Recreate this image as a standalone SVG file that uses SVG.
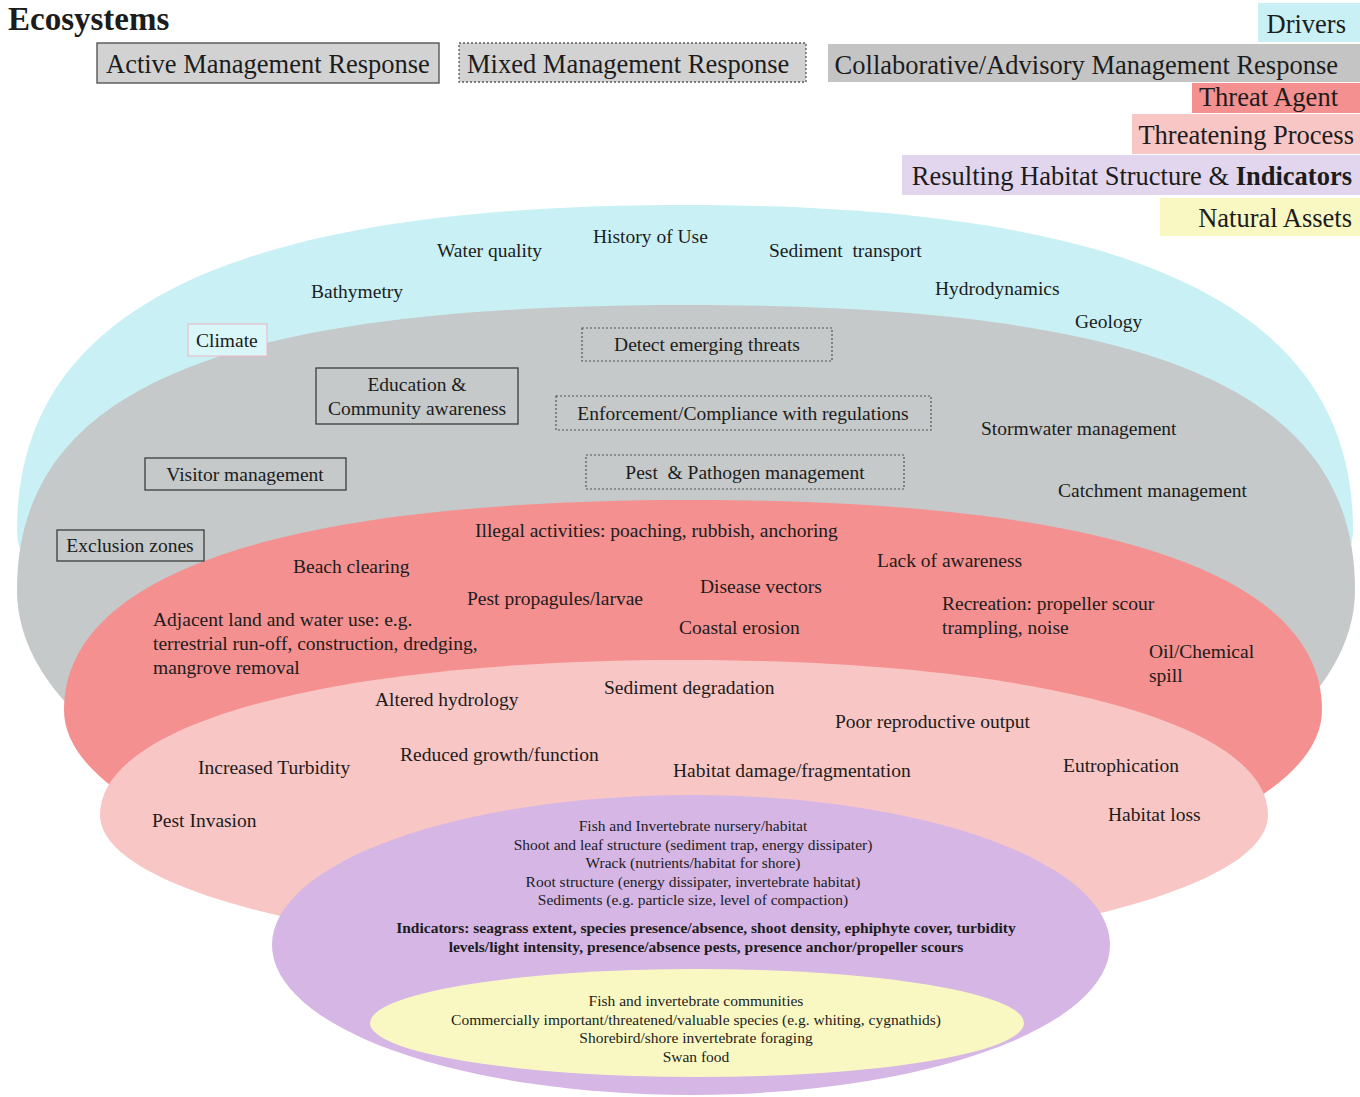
<svg xmlns="http://www.w3.org/2000/svg" width="1360" height="1097" viewBox="0 0 1360 1097">
  <style>
    text { font-family: "Liberation Serif", "Times New Roman", serif; fill: #1c1c1c; }
    .leg { font-size: 26.5px; }
    .lbl { font-size: 19.5px; }
    .sm { font-size: 15.5px; }
    .smb { font-size: 15.5px; font-weight: bold; }
    .mid { text-anchor: middle; }
    .end { text-anchor: end; }
    .active { fill: #d2d2d2; stroke: #4a4a4a; stroke-width: 1.3; }
    .mixed { fill: #d2d2d2; stroke: #5a5a5a; stroke-width: 1.3; stroke-dasharray: 2 2; }
    .boxA { fill: none; stroke: #3c3c3c; stroke-width: 1.3; }
    .boxM { fill: none; stroke: #555; stroke-width: 1.2; stroke-dasharray: 2 2; }
  </style>

  <rect width="1360" height="1097" fill="#ffffff"/>

  <!-- nested zones, outermost first -->
  <g id="zone-drivers">
    <path d="M 17,530 C 17,309 231,205 685,205 C 1139,205 1353,309 1353,530 C 1353,640 1054,730 685,730 C 316,730 17,640 17,530 Z" fill="#c9f1f5"/>
  </g>
  <g id="zone-management">
    <path d="M 17,590 C 17,390 218,305 686,305 C 1154,305 1355,390 1355,590 C 1355,756 1055,890 686,890 C 317,890 17,756 17,590 Z" fill="#c5c9c9"/>
  </g>
  <g id="zone-threat-agent">
    <path d="M 64,710 C 64,573 284,500 693,500 C 1102,500 1322,573 1322,710 C 1322,820 1040,910 693,910 C 346,910 64,820 64,710 Z" fill="#f4908f"/>
  </g>
  <g id="zone-threatening-process">
    <path d="M 100,815 C 100,722 334,660 684,660 C 1034,660 1268,722 1268,815 C 1268,892 1006,955 684,955 C 362,955 100,892 100,815 Z" fill="#f8c6c5"/>
  </g>
  <g id="zone-habitat">
    <ellipse cx="691" cy="945" rx="419" ry="150" fill="#d5b6e5"/>
  </g>
  <g id="zone-assets">
    <ellipse cx="697" cy="1023" rx="327" ry="54" fill="#f9f8c3"/>
  </g>

  <!-- title and legend -->
  <g id="title">
    <text x="8" y="30" style="font-size:33px;font-weight:bold">Ecosystems</text>
  </g>
  <g id="legend-active">
    <rect class="active" x="97" y="43" width="342" height="40"/>
    <text class="leg" x="106" y="73">Active Management Response</text>
  </g>
  <g id="legend-mixed">
    <rect class="mixed" x="459" y="43" width="347" height="39"/>
    <text class="leg" x="467" y="73">Mixed Management Response</text>
  </g>
  <g id="legend-collaborative">
    <rect x="828" y="44" width="532" height="38" fill="#c4c4c4"/>
    <text class="leg end" x="1338" y="74">Collaborative/Advisory Management Response</text>
  </g>
  <g id="legend-drivers">
    <rect x="1258" y="3" width="102" height="39" fill="#c9f1f5"/>
    <text class="leg end" x="1346" y="33">Drivers</text>
  </g>
  <g id="legend-threat-agent">
    <rect x="1192" y="83" width="168" height="30" fill="#f4908f"/>
    <text class="leg end" x="1338" y="106">Threat Agent</text>
  </g>
  <g id="legend-threatening-process">
    <rect x="1132" y="114" width="228" height="40" fill="#f8c6c5"/>
    <text class="leg end" x="1354" y="144">Threatening Process</text>
  </g>
  <g id="legend-habitat">
    <rect x="902" y="155" width="458" height="40" fill="#e2d6ee"/>
    <text class="leg end" x="1352" y="185">Resulting Habitat Structure &amp; <tspan font-weight="bold">Indicators</tspan></text>
  </g>
  <g id="legend-assets">
    <rect x="1160" y="198" width="200" height="38" fill="#f9f8c3"/>
    <text class="leg end" x="1352" y="227">Natural Assets</text>
  </g>

  <!-- drivers -->
  <g id="water-quality"><text class="lbl" x="437" y="257">Water quality</text></g>
  <g id="history-of-use"><text class="lbl" x="593" y="243">History of Use</text></g>
  <g id="sediment-transport"><text class="lbl" x="769" y="257" xml:space="preserve">Sediment  transport</text></g>
  <g id="bathymetry"><text class="lbl" x="311" y="298">Bathymetry</text></g>
  <g id="hydrodynamics"><text class="lbl" x="935" y="295">Hydrodynamics</text></g>
  <g id="geology"><text class="lbl" x="1075" y="328">Geology</text></g>
  <g id="climate">
    <rect x="188" y="324" width="79" height="32" fill="#d9f6f8" stroke="#eeb4c4" stroke-width="1"/>
    <text class="lbl" x="196" y="347">Climate</text>
  </g>

  <!-- management responses -->
  <g id="detect-threats">
    <rect class="boxM" x="582" y="328" width="250" height="33"/>
    <text class="lbl mid" x="707" y="351">Detect emerging threats</text>
  </g>
  <g id="education">
    <rect class="boxA" x="316" y="368" width="202" height="56"/>
    <text class="lbl mid" x="417" y="391">Education &amp;</text>
    <text class="lbl mid" x="417" y="415">Community awareness</text>
  </g>
  <g id="enforcement">
    <rect class="boxM" x="556" y="396" width="375" height="34"/>
    <text class="lbl mid" x="743" y="420">Enforcement/Compliance with regulations</text>
  </g>
  <g id="stormwater"><text class="lbl" x="981" y="435">Stormwater management</text></g>
  <g id="visitor-management">
    <rect class="boxA" x="145" y="458" width="201" height="32"/>
    <text class="lbl mid" x="245" y="481">Visitor management</text>
  </g>
  <g id="pest-pathogen">
    <rect class="boxM" x="586" y="455" width="318" height="34"/>
    <text class="lbl mid" x="745" y="479" xml:space="preserve">Pest  &amp; Pathogen management</text>
  </g>
  <g id="catchment"><text class="lbl" x="1058" y="497">Catchment management</text></g>
  <g id="exclusion-zones">
    <rect class="boxA" x="57" y="530" width="147" height="31"/>
    <text class="lbl mid" x="130" y="552">Exclusion zones</text>
  </g>

  <!-- threat agents -->
  <g id="illegal-activities"><text class="lbl" x="475" y="537">Illegal activities: poaching, rubbish, anchoring</text></g>
  <g id="beach-clearing"><text class="lbl" x="293" y="573">Beach clearing</text></g>
  <g id="lack-of-awareness"><text class="lbl" x="877" y="567">Lack of awareness</text></g>
  <g id="disease-vectors"><text class="lbl" x="700" y="593">Disease vectors</text></g>
  <g id="pest-propagules"><text class="lbl" x="467" y="605">Pest propagules/larvae</text></g>
  <g id="recreation">
    <text class="lbl" x="942" y="610">Recreation: propeller scour</text>
    <text class="lbl" x="942" y="634">trampling, noise</text>
  </g>
  <g id="adjacent-use">
    <text class="lbl" x="153" y="626">Adjacent land and water use: e.g.</text>
    <text class="lbl" x="153" y="650">terrestrial run-off, construction, dredging,</text>
    <text class="lbl" x="153" y="674">mangrove removal</text>
  </g>
  <g id="coastal-erosion"><text class="lbl" x="679" y="634">Coastal erosion</text></g>
  <g id="oil-spill">
    <text class="lbl" x="1149" y="658">Oil/Chemical</text>
    <text class="lbl" x="1149" y="682">spill</text>
  </g>

  <!-- threatening processes -->
  <g id="sediment-degradation"><text class="lbl" x="604" y="694">Sediment degradation</text></g>
  <g id="altered-hydrology"><text class="lbl" x="375" y="706">Altered hydrology</text></g>
  <g id="poor-reproduction"><text class="lbl" x="835" y="728">Poor reproductive output</text></g>
  <g id="reduced-growth"><text class="lbl" x="400" y="761">Reduced growth/function</text></g>
  <g id="increased-turbidity"><text class="lbl" x="198" y="774">Increased Turbidity</text></g>
  <g id="habitat-damage"><text class="lbl" x="673" y="777">Habitat damage/fragmentation</text></g>
  <g id="eutrophication"><text class="lbl" x="1063" y="772">Eutrophication</text></g>
  <g id="habitat-loss"><text class="lbl" x="1108" y="821">Habitat loss</text></g>
  <g id="pest-invasion"><text class="lbl" x="152" y="827">Pest Invasion</text></g>

  <!-- habitat structure and indicators -->
  <g id="habitat-structure">
    <text class="sm mid" x="693" y="831">Fish and Invertebrate nursery/habitat</text>
    <text class="sm mid" x="693" y="850">Shoot and leaf structure (sediment trap, energy dissipater)</text>
    <text class="sm mid" x="693" y="868">Wrack (nutrients/habitat for shore)</text>
    <text class="sm mid" x="693" y="887">Root structure (energy dissipater, invertebrate habitat)</text>
    <text class="sm mid" x="693" y="905">Sediments (e.g. particle size, level of compaction)</text>
  </g>
  <g id="indicators">
    <text class="smb mid" x="706" y="933">Indicators: seagrass extent, species presence/absence, shoot density, ephiphyte cover, turbidity</text>
    <text class="smb mid" x="706" y="952">levels/light intensity, presence/absence pests, presence anchor/propeller scours</text>
  </g>

  <!-- natural assets -->
  <g id="natural-assets">
    <text class="sm mid" x="696" y="1006">Fish and invertebrate communities</text>
    <text class="sm mid" x="696" y="1025">Commercially important/threatened/valuable species (e.g. whiting, cygnathids)</text>
    <text class="sm mid" x="696" y="1043">Shorebird/shore invertebrate foraging</text>
    <text class="sm mid" x="696" y="1062">Swan food</text>
  </g>
</svg>
